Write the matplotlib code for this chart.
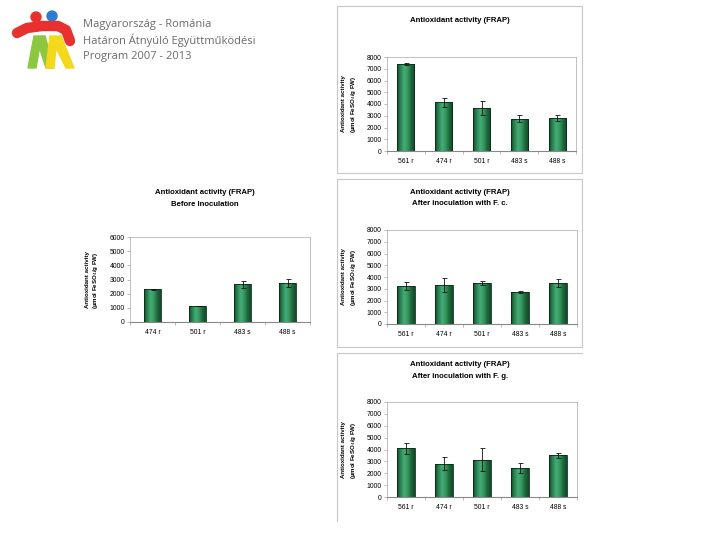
import numpy as np
import matplotlib
matplotlib.use("Agg")
from matplotlib import pyplot as plt
from matplotlib.patches import Rectangle, Circle, Polygon
from matplotlib.colors import LinearSegmentedColormap

plt.rcParams['font.family'] = ['Liberation Sans', 'DejaVu Sans']

# ---- data ----
cats5 = ["561 r", "474 r", "501 r", "483 s", "488 s"]
cats4 = ["474 r", "501 r", "483 s", "488 s"]

frap_all = [7400, 4150, 3650, 2750, 2800]
frap_all_err = [50, 400, 600, 300, 250]

frap_before = [2300, 1150, 2650, 2750]
frap_before_err = [20, 10, 250, 300]

frap_fc = [3250, 3350, 3500, 2750, 3500]
frap_fc_err = [350, 600, 150, 80, 350]

frap_fg = [4100, 2800, 3150, 2450, 3500]
frap_fg_err = [450, 550, 950, 450, 200]

W, H = 720, 540
fig = plt.figure(figsize=(7.2, 5.4), dpi=100)
fig.patch.set_facecolor('white')


def rect(x0, y0, x1, y1):
    # pixel box (top-left origin) -> figure fraction
    return [x0 / W, 1 - y1 / H, (x1 - x0) / W, (y1 - y0) / H]


def fx(x):
    return x / W


def fy(y):
    return 1 - y / H


bar_cmap = LinearSegmentedColormap.from_list(
    "cyl", ["#124a29", "#2b8553", "#46ad78", "#36965f", "#1d673b", "#124a29"])
grad = np.linspace(0, 1, 64).reshape(1, -1)


def bar_chart(box, cats, vals, errs, ymax, width):
    ax = fig.add_axes(rect(*box))
    x = np.arange(len(cats))
    bars = ax.bar(x, vals, width=width, color='none', edgecolor='#0a2a16',
                  linewidth=0.6, zorder=3)
    for b in bars:
        im = ax.imshow(grad, cmap=bar_cmap, aspect='auto', zorder=2,
                       extent=[b.get_x(), b.get_x() + b.get_width(), 0, b.get_height()])
        im.set_clip_path(b)
    ax.errorbar(x, vals, yerr=errs, fmt='none', ecolor='#111111',
                elinewidth=0.6, capsize=1.8, capthick=0.6, zorder=4)
    ax.set_xlim(-0.5, len(cats) - 0.5)
    ax.set_ylim(0, ymax)
    ax.set_yticks(np.arange(0, ymax + 1, 1000))
    ax.set_xticks(x)
    ax.set_xticklabels(cats)
    ax.set_xticks(np.arange(-0.5, len(cats), 1), minor=True)
    ax.tick_params(axis='x', which='major', length=0, labelsize=4.9, pad=5)
    ax.tick_params(axis='x', which='minor', length=2, width=0.4, color='#888888')
    ax.tick_params(axis='y', length=2, width=0.4, color='#888888', labelsize=4.9, pad=2)
    for s in ['top', 'right', 'left']:
        ax.spines[s].set_color('#a8a8a8')
        ax.spines[s].set_linewidth(0.5)
    ax.spines['bottom'].set_color('#888888')
    ax.spines['bottom'].set_linewidth(0.8)
    ax.set_facecolor('white')
    return ax


def titles(cx, y1, lines):
    for i, t in enumerate(lines):
        fig.text(fx(cx), fy(y1 + i * 11), t, ha='center', va='center',
                 fontsize=5.6, fontweight='bold')


def ylab(x1, yc):
    fig.text(fx(x1), fy(yc), "Antioxidant activity", rotation=90,
             ha='center', va='center', fontsize=4.4, fontweight='bold')
    fig.text(fx(x1 + 9), fy(yc), "(µmol FeSO$_4$/g FW)", rotation=90,
             ha='center', va='center', fontsize=4.4, fontweight='bold')


# ---- panel frames ----
for (x0, y0, x1, y1) in [(337, 6, 582, 173), (337, 179, 582, 347)]:
    fig.patches.append(Rectangle((fx(x0), fy(y1)), fx(x1 - x0), (y1 - y0) / H,
                                 transform=fig.transFigure, fill=False,
                                 edgecolor='#c8c8c8', linewidth=0.8))
fig.lines.append(plt.Line2D([fx(337), fx(582)], [fy(353), fy(353)],
                            transform=fig.transFigure, color='#c8c8c8', lw=0.8))
fig.lines.append(plt.Line2D([fx(337), fx(337)], [fy(353), fy(521)],
                            transform=fig.transFigure, color='#c8c8c8', lw=0.8))

# ---- charts ----
bar_chart((387, 57, 576, 151), cats5, frap_all, frap_all_err, 8000, 0.45)
titles(460, 20, ["Antioxidant activity (FRAP)"])
ylab(344, 104)

bar_chart((130, 237, 310, 322), cats4, frap_before, frap_before_err, 6000, 0.36)
titles(205, 193, ["Antioxidant activity (FRAP)", "Before Inoculation"])
ylab(87, 280)

bar_chart((387, 230, 577, 324), cats5, frap_fc, frap_fc_err, 8000, 0.45)
titles(460, 192, ["Antioxidant activity (FRAP)", "After inoculation with F. c."])
ylab(344, 277)

bar_chart((387, 402, 577, 497), cats5, frap_fg, frap_fg_err, 8000, 0.45)
titles(460, 365, ["Antioxidant activity (FRAP)", "After inoculation with F. g."])
ylab(344, 450)

# ---- logo ----
lax = fig.add_axes(rect(8, 8, 82, 72))
lax.set_xlim(8, 82)
lax.set_ylim(72, 8)
lax.axis('off')
lax.add_patch(Polygon([(28, 68), (34, 36), (45, 36), (54, 68), (46, 68),
                       (39.5, 48), (36, 68)], closed=True, color='#8dc63f'))
lax.add_patch(Polygon([(46, 68), (50, 36), (61, 36), (74, 68), (66, 68),
                       (56, 48), (54, 68)], closed=True, color='#f4d81c'))
lax.plot([17, 27, 42, 58, 66, 70], [33, 28, 26, 26, 30, 41], color='#e8302e',
         lw=7.5, solid_capstyle='round', solid_joinstyle='round')
lax.add_patch(Circle((36, 17), 5, color='#e8302e'))
lax.add_patch(Circle((52, 16), 5, color='#2b7fd3'))

logo_lines = ["Magyarország - Románia", "Határon Átnyúló Együttműködési",
              "Program 2007 - 2013"]
for i, t in enumerate(logo_lines):
    fig.text(fx(83), fy(25 + i * 15.5), t, ha='left', va='center',
             fontsize=8.0, color='#6a6a6a', family='Open Sans')

fig.savefig("out.png", dpi=100)
